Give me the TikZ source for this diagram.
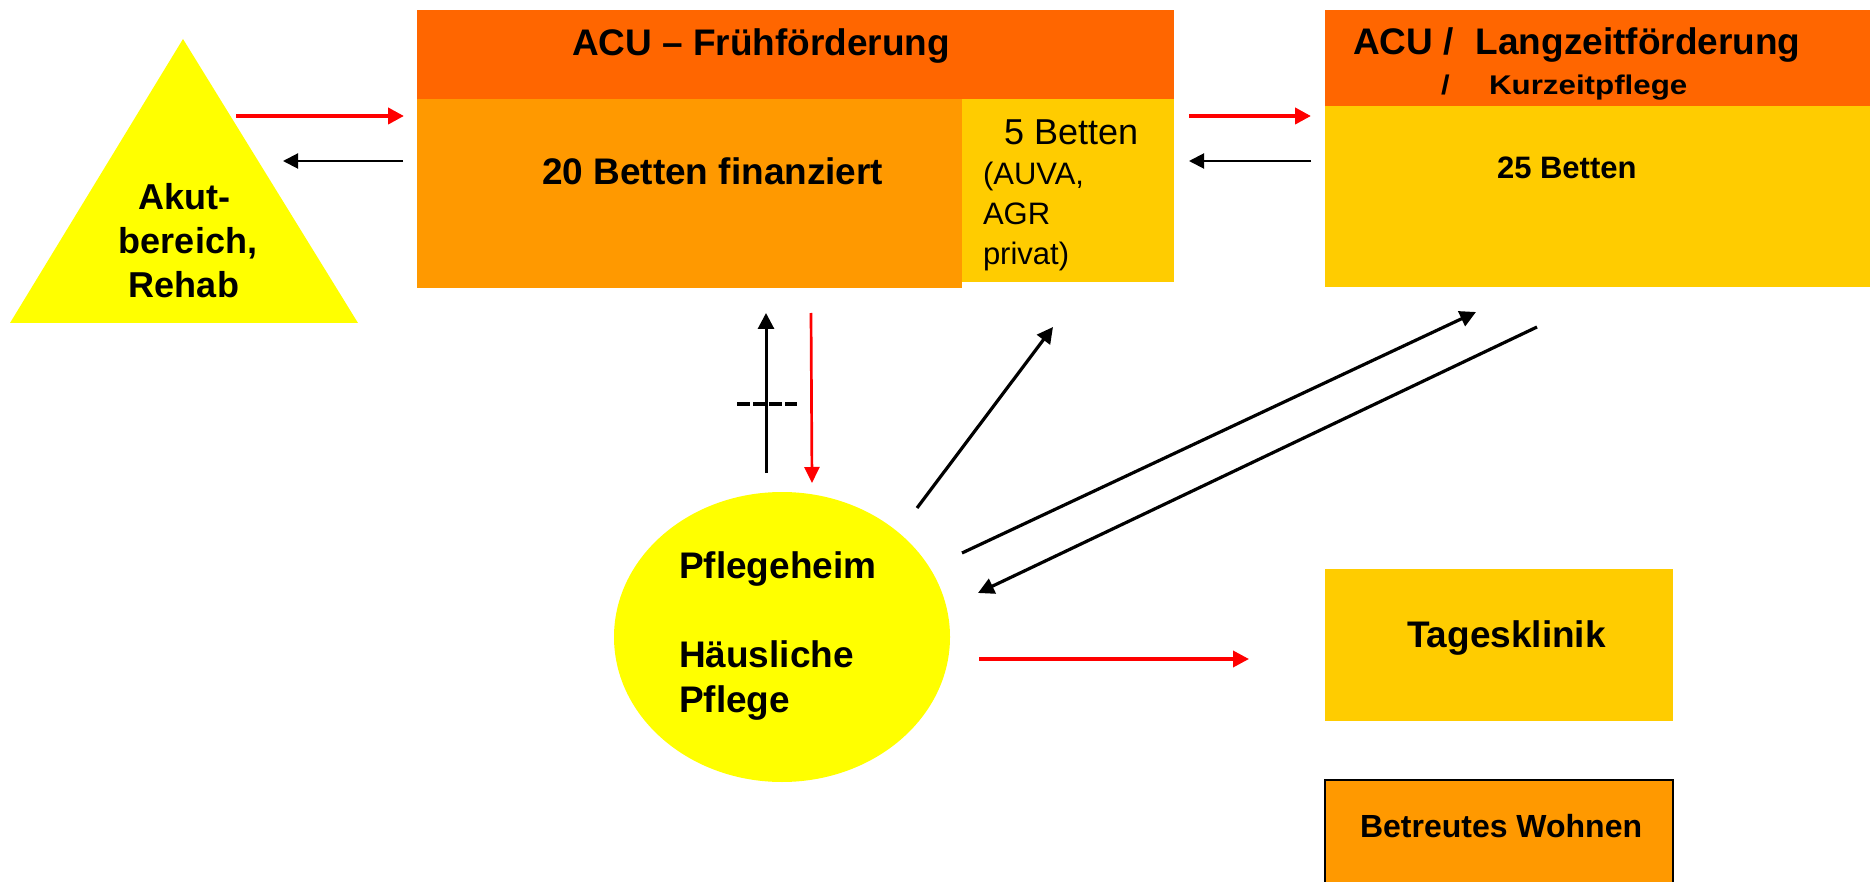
\documentclass[tikz,border=0pt]{standalone}
\usepackage{fontspec}
\setmainfont{Liberation Sans}
\usetikzlibrary{arrows.meta,shapes.geometric}
\definecolor{hdrorange}{HTML}{FF6600}
\definecolor{midorange}{HTML}{FF9900}
\definecolor{goldbox}{HTML}{FFCC00}
\definecolor{brightyellow}{HTML}{FFFF00}
\definecolor{arrowred}{HTML}{FF0000}
\begin{document}
\begin{tikzpicture}[x=1pt,y=-1pt,
  area/.style={inner sep=0pt, outer sep=0pt, anchor=north west, draw=none},
  lbl/.style={inner sep=0pt, outer sep=0pt, anchor=base west, text=black},
  clbl/.style={inner sep=0pt, outer sep=0pt, anchor=base, text=black},
  bigbold/.style={font=\fontsize{36}{44}\selectfont\bfseries},
  redthick/.style={draw=arrowred, line width=4.2pt, -{Triangle[length=16pt,width=16pt]}},
  redthin/.style={draw=arrowred, line width=2.7pt, -{Triangle[length=16pt,width=15pt]}},
  blackthin/.style={draw=black, line width=2pt, -{Triangle[length=15pt,width=15pt]}},
  blackmid/.style={draw=black, line width=3.2pt, -{Triangle[length=16pt,width=16pt]}},
  dashmark/.style={draw=black, line width=3.3pt, dash pattern=on 12.5pt off 3.5pt},
]
\useasboundingbox[fill=white] (0,0) rectangle (1874,882);

% triangle
\fill[brightyellow] (183,39) -- (358,323) -- (10,323) -- cycle;
\node[clbl, bigbold] (akut1) at (184,210) {Akut-};
\node[clbl, bigbold] (akut2) at (188,254) {bereich,};
\node[clbl, bigbold] (akut3) at (184,298) {Rehab};

% ACU Fruehfoerderung
\node[area, fill=hdrorange, minimum width=757pt, minimum height=90pt] (fhdr) at (417,10) {};
\node[area, fill=midorange, minimum width=545pt, minimum height=189pt] (fbody) at (417,99) {};
\node[area, fill=goldbox, minimum width=212pt, minimum height=183pt] (ffive) at (962,99) {};
\node[lbl, font=\fontsize{37}{44}\selectfont\bfseries] (fhdrtxt) at (572,56) {ACU – Frühförderung};
\node[lbl, font=\fontsize{37}{44}\selectfont\bfseries] (fbodytxt) at (542,185) {20 Betten finanziert};
\node[lbl, font=\fontsize{36}{44}\selectfont] (fivetxt) at (1004,145) {5 Betten};
\node[lbl, font=\fontsize{31}{40}\selectfont] (auva) at (983,185) {(AUVA,};
\node[lbl, font=\fontsize{31}{40}\selectfont] (agr) at (983,225) {AGR};
\node[lbl, font=\fontsize{31}{40}\selectfont] (privat) at (983,265) {privat)};

% ACU Langzeitfoerderung
\node[area, fill=hdrorange, minimum width=545pt, minimum height=96pt] (lhdr) at (1325,10) {};
\node[area, fill=goldbox, minimum width=545pt, minimum height=181pt] (lbody) at (1325,106) {};
\node[lbl, font=\fontsize{37}{44}\selectfont\bfseries] (lhdrtxt) at (1353,55) {ACU /\hspace{22pt}Langzeitförderung};
\node[lbl, font=\fontsize{27}{30}\selectfont\bfseries] (slash2) at (1441,95) {\scalebox{1.15}[1]{/}};
\node[lbl, font=\fontsize{27}{30}\selectfont\bfseries] (kurz) at (1489,95) {\scalebox{1.16}[1]{Kurzeitpflege}};
\node[lbl, font=\fontsize{31}{40}\selectfont\bfseries] (lbodytxt) at (1497,179) {25 Betten};

% Tagesklinik, Betreutes Wohnen
\node[area, fill=goldbox, minimum width=348pt, minimum height=152pt] (tages) at (1325,569) {};
\node[lbl, font=\fontsize{37}{44}\selectfont\bfseries] (tagestxt) at (1407,647) {Tagesklinik};
\node[area, fill=midorange, draw=black, line width=2pt, minimum width=348pt, minimum height=140pt] (betreut) at (1325,780) {};
\node[lbl, font=\fontsize{32}{40}\selectfont\bfseries] (betreuttxt) at (1360,837) {Betreutes Wohnen};

% Pflegeheim ellipse
\node[ellipse, fill=brightyellow, inner sep=0pt, minimum width=336pt, minimum height=290pt] (pflege) at (782,637) {};
\node[lbl, font=\fontsize{37}{44}\selectfont\bfseries] (pflegetxt1) at (679,578) {Pflegeheim};
\node[lbl, font=\fontsize{37}{44}\selectfont\bfseries] (pflegetxt2) at (679,667) {Häusliche};
\node[lbl, font=\fontsize{37}{44}\selectfont\bfseries] (pflegetxt3) at (679,712) {Pflege};

% connector end points
\coordinate (a1s) at (236,116); \coordinate (a1e) at (404,116);
\coordinate (a2s) at (403,161); \coordinate (a2e) at (283,161);
\coordinate (a3s) at (1189,116); \coordinate (a3e) at (1311,116);
\coordinate (a4s) at (1311,161); \coordinate (a4e) at (1189,161);
\coordinate (upS) at (766,473); \coordinate (upE) at (766,313);
\coordinate (dashL) at (737,404); \coordinate (dashR) at (797,404);
\coordinate (dnS) at (811,313); \coordinate (dnE) at (812,483);
\coordinate (d1s) at (917,508); \coordinate (d1e) at (1053,327);
\coordinate (d2s) at (962,553); \coordinate (d2e) at (1476,312);
\coordinate (d3s) at (1537,327); \coordinate (d3e) at (978,593);
\coordinate (rrS) at (979,659); \coordinate (rrE) at (1249,659);

\draw[redthick] (a1s) -- (a1e);
\draw[blackthin] (a2s) -- (a2e);
\draw[redthick] (a3s) -- (a3e);
\draw[blackthin] (a4s) -- (a4e);
\draw[blackmid, line width=3pt] (upS) -- (upE);
\draw[dashmark] (dashL) -- (dashR);
\draw[redthin] (dnS) -- (dnE);
\draw[blackmid] (d1s) -- (d1e);
\draw[blackmid] (d2s) -- (d2e);
\draw[blackmid] (d3s) -- (d3e);
\draw[redthick, line width=3.6pt] (rrS) -- (rrE);
\end{tikzpicture}
\end{document}
